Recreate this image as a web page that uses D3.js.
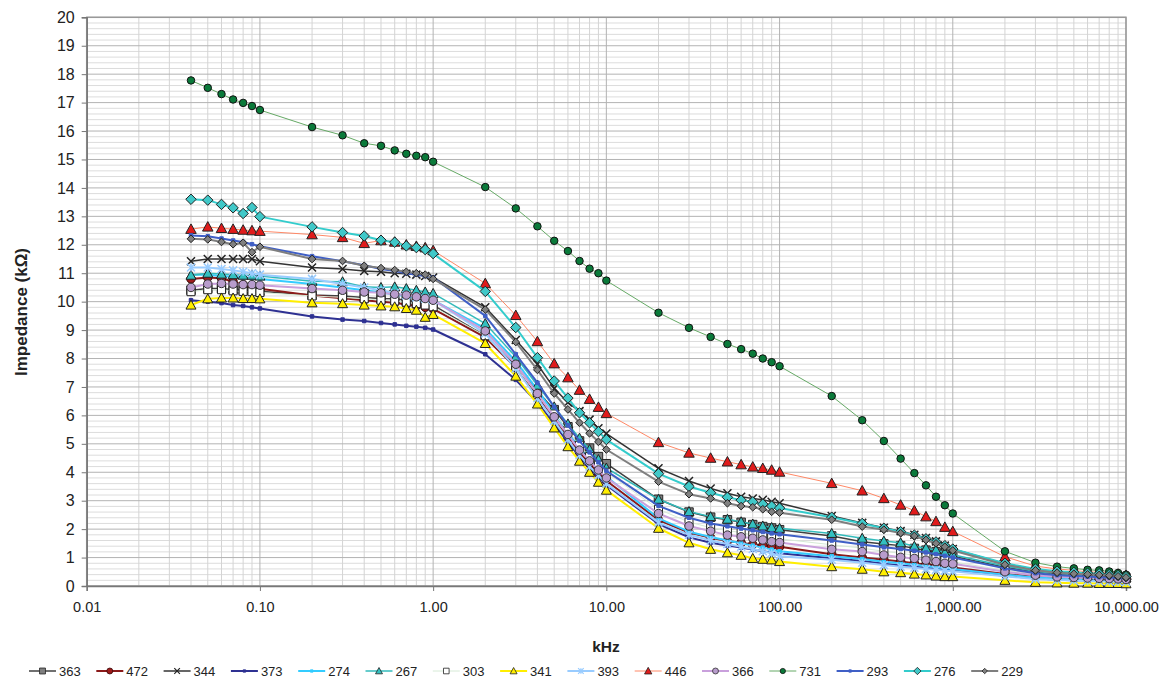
<!DOCTYPE html>
<html><head><meta charset="utf-8">
<script src="https://cdn.jsdelivr.net/npm/d3@7"></script>
<style>body{margin:0;background:#fff;} text{font-family:"Liberation Sans",Arial,sans-serif;fill:#222;}</style>
</head><body><svg id="c" width="1170" height="680"></svg>
<script>
// ---------- DATA ----------
const freqs = [0.04,0.05,0.06,0.07,0.08,0.09,0.1, 0.2,0.3,0.4,0.5,0.6,0.7,0.8,0.9,1, 2,3,4,5,6,7,8,9,10, 20,30,40,50,60,70,80,90,100, 200,300,400,500,600,700,800,900,1000, 2000,3000,4000,5000,6000,7000,8000,9000,10000];
const seriesNames = ["363","472","344","373","274","267","303","341","393","446","366","731","293","276","229"];
const s363 = [10.40,10.46,10.46,10.42,10.40,10.40,10.37, 10.23,10.20,10.15,10.11,10.10,10.05,10.00,9.95,9.88, 8.80,7.75,6.85,6.20,5.60,5.10,4.85,4.55,4.30, 3.05,2.60,2.42,2.33,2.24,2.16,2.09,2.04,1.98, 1.76,1.56,1.48,1.42,1.32,1.26,1.20,1.12,1.05, 0.66,0.50,0.42,0.38,0.36,0.34,0.32,0.30,0.28];
const s472 = [10.80,10.85,10.82,10.70,10.60,10.50,10.45, 10.22,10.12,10.05,10.00,9.96,9.90,9.85,9.80,9.75, 8.74,7.68,6.65,5.85,5.20,4.70,4.30,3.95,3.70, 2.32,1.88,1.70,1.58,1.52,1.46,1.42,1.40,1.38, 1.12,1.00,0.92,0.86,0.80,0.76,0.72,0.68,0.65, 0.42,0.32,0.27,0.25,0.24,0.23,0.22,0.21,0.20];
const s344 = [11.42,11.50,11.50,11.50,11.50,11.50,11.42, 11.20,11.15,11.08,11.05,11.00,10.98,10.95,10.90,10.85, 9.80,8.65,7.80,6.95,6.45,6.15,5.85,5.55,5.36, 4.14,3.69,3.43,3.26,3.14,3.08,3.03,2.96,2.91, 2.46,2.22,2.05,1.93,1.80,1.69,1.57,1.42,1.30, 0.78,0.58,0.50,0.46,0.43,0.41,0.39,0.36,0.32];
const s373 = [10.05,10.00,9.95,9.88,9.85,9.80,9.76, 9.48,9.37,9.32,9.25,9.20,9.15,9.12,9.08,9.02, 8.15,7.25,6.45,5.70,5.05,4.55,4.15,3.85,3.55, 2.18,1.71,1.52,1.42,1.35,1.28,1.22,1.18,1.15, 0.98,0.88,0.78,0.72,0.68,0.64,0.60,0.57,0.55, 0.36,0.27,0.22,0.20,0.19,0.18,0.17,0.16,0.15];
const s274 = [10.95,10.95,10.90,10.88,10.85,10.82,10.80, 10.62,10.50,10.40,10.32,10.25,10.20,10.15,10.10,10.05, 9.05,7.90,6.90,6.05,5.40,4.85,4.45,4.10,3.85, 2.38,1.91,1.72,1.60,1.50,1.42,1.35,1.28,1.22, 1.05,0.95,0.85,0.80,0.75,0.70,0.66,0.62,0.60, 0.40,0.30,0.26,0.24,0.23,0.22,0.21,0.20,0.19];
const s267 = [10.93,11.00,10.97,10.95,10.93,10.93,10.90, 10.72,10.70,10.52,10.50,10.52,10.46,10.40,10.34,10.29, 9.23,8.06,7.06,6.30,5.70,5.20,4.80,4.45,4.15, 3.05,2.62,2.44,2.35,2.26,2.18,2.11,2.06,2.03, 1.85,1.68,1.58,1.52,1.40,1.33,1.27,1.17,1.10, 0.70,0.52,0.44,0.40,0.38,0.36,0.34,0.32,0.29];
const s303 = [10.35,10.42,10.42,10.38,10.36,10.35,10.32, 10.20,10.15,10.10,10.05,10.02,9.98,9.93,9.88,9.82, 8.80,7.70,6.75,6.05,5.45,4.95,4.55,4.25,4.00, 2.70,2.25,2.05,1.95,1.88,1.80,1.75,1.70,1.66, 1.45,1.33,1.22,1.15,1.08,1.02,0.96,0.90,0.85, 0.55,0.42,0.36,0.33,0.31,0.30,0.28,0.27,0.25];
const s341 = [9.88,10.10,10.13,10.13,10.11,10.11,10.10, 9.96,9.93,9.88,9.85,9.82,9.76,9.70,9.45,9.55, 8.53,7.38,6.40,5.56,4.90,4.39,4.00,3.65,3.37, 2.03,1.52,1.29,1.17,1.08,0.97,0.94,0.92,0.86, 0.68,0.59,0.50,0.47,0.42,0.39,0.35,0.33,0.33, 0.20,0.13,0.11,0.10,0.10,0.09,0.09,0.09,0.08];
const s393 = [11.20,11.20,11.15,11.10,11.05,11.00,10.95, 10.80,10.62,10.50,10.40,10.30,10.22,10.15,10.10,10.05, 8.88,7.65,6.60,5.80,5.15,4.60,4.20,3.90,3.60, 2.23,1.80,1.60,1.48,1.38,1.30,1.22,1.15,1.05, 0.92,0.82,0.74,0.68,0.64,0.60,0.57,0.54,0.52, 0.34,0.25,0.21,0.19,0.18,0.17,0.16,0.15,0.14];
const s446 = [12.55,12.63,12.58,12.55,12.52,12.50,12.48, 12.36,12.26,12.05,12.15,12.10,12.00,11.95,11.90,11.80, 10.64,9.52,8.60,7.82,7.33,6.89,6.57,6.29,6.07, 5.05,4.68,4.50,4.37,4.27,4.19,4.14,4.08,4.01, 3.61,3.35,3.08,2.85,2.65,2.44,2.27,2.07,1.92, 1.03,0.70,0.60,0.55,0.50,0.48,0.45,0.42,0.38];
const s366 = [10.50,10.62,10.64,10.62,10.60,10.60,10.58, 10.46,10.40,10.34,10.31,10.26,10.23,10.17,10.11,10.05, 8.97,7.80,6.77,5.95,5.33,4.78,4.40,4.08,3.80, 2.55,2.11,1.93,1.79,1.73,1.68,1.62,1.56,1.53, 1.29,1.21,1.09,1.01,0.97,0.91,0.86,0.80,0.78, 0.50,0.38,0.32,0.30,0.28,0.27,0.26,0.25,0.23];
const s731 = [17.78,17.52,17.30,17.11,16.99,16.88,16.74, 16.14,15.85,15.57,15.48,15.32,15.20,15.13,15.08,14.92, 14.03,13.28,12.65,12.14,11.78,11.43,11.16,11.00,10.74, 9.61,9.08,8.76,8.51,8.33,8.17,8.00,7.87,7.73, 6.68,5.83,5.10,4.48,3.97,3.54,3.14,2.84,2.55, 1.22,0.82,0.68,0.62,0.57,0.55,0.51,0.46,0.40];
const s293 = [12.33,12.30,12.22,12.15,12.10,12.02,11.95, 11.60,11.42,11.28,11.15,11.08,11.00,10.95,10.90,10.85, 9.50,8.15,7.15,6.30,5.65,5.10,4.70,4.35,4.05, 2.82,2.40,2.20,2.10,2.02,1.96,1.90,1.85,1.82, 1.60,1.46,1.36,1.30,1.24,1.18,1.12,1.06,1.00, 0.62,0.45,0.38,0.35,0.33,0.31,0.30,0.28,0.26];
const s276 = [13.60,13.57,13.42,13.30,13.10,13.31,12.99, 12.63,12.43,12.31,12.16,12.09,11.96,11.90,11.83,11.69, 10.36,9.09,8.03,7.21,6.61,6.09,5.74,5.43,5.15, 3.95,3.50,3.28,3.12,3.02,2.96,2.88,2.81,2.74, 2.42,2.20,2.03,1.91,1.79,1.66,1.55,1.42,1.30, 0.80,0.60,0.52,0.48,0.45,0.43,0.40,0.37,0.33];
const s229 = [12.21,12.19,12.10,12.02,12.07,11.74,11.93, 11.50,11.43,11.26,11.18,11.11,11.05,11.00,10.95,10.80, 9.72,8.58,7.60,6.77,6.21,5.74,5.37,5.07,4.80, 3.67,3.23,3.08,2.91,2.81,2.77,2.70,2.61,2.58, 2.33,2.09,1.98,1.86,1.76,1.62,1.50,1.38,1.25, 0.75,0.55,0.47,0.43,0.41,0.39,0.37,0.34,0.30];
const seriesValues = [s363,s472,s344,s373,s274,s267,s303,s341,s393,s446,s366,s731,s293,s276,s229];
const xTicks = [0.01,0.1,1,10,100,1000,10000];
const xTickLabels = ["0.01","0.10","1.00","10.00","100.00","1,000.00","10,000.00"];
const yTicks = [0,1,2,3,4,5,6,7,8,9,10,11,12,13,14,15,16,17,18,19,20];
const xTitle = "kHz";
const yTitle = "Impedance (kΩ)";

// ---------- STYLES ----------
const styles = {
  "363":{line:"#404040",lw:1.5,m:"square",s:8.5,fill:"#7f7f7f",stroke:"#262626"},
  "472":{line:"#8b1a1a",lw:2,m:"circle",s:8.5,fill:"#9e1b1b",stroke:"#3a0a0a"},
  "344":{line:"#333333",lw:1.5,m:"x",s:8,fill:"none",stroke:"#222"},
  "373":{line:"#2e3192",lw:2,m:"square",s:3.5,fill:"#2e3192",stroke:"#2e3192"},
  "274":{line:"#33ccff",lw:2,m:"square",s:3.5,fill:"#33ccff",stroke:"#33ccff"},
  "267":{line:"#33bbbb",lw:1.5,m:"triangle",s:9.5,fill:"#33c0c0",stroke:"#222"},
  "303":{line:"#d6ead6",lw:1,m:"square",s:8,fill:"#ffffff",stroke:"#222"},
  "341":{line:"#ffee00",lw:2,m:"triangle",s:9.5,fill:"#ffee00",stroke:"#222"},
  "393":{line:"#99ccff",lw:2,m:"star",s:8,fill:"none",stroke:"#99ccff"},
  "446":{line:"#ff8866",lw:1,m:"triangle",s:10,fill:"#e01b1b",stroke:"#222"},
  "366":{line:"#c9a0dc",lw:2,m:"circle",s:8.5,fill:"#b89ccc",stroke:"#333"},
  "731":{line:"#66aa66",lw:1,m:"circle",s:7.5,fill:"#0a7a3a",stroke:"#111"},
  "293":{line:"#3f5fc6",lw:2,m:"square",s:3.5,fill:"#3f5fc6",stroke:"#3f5fc6"},
  "276":{line:"#33cccc",lw:2,m:"diamond",s:9.5,fill:"#40c8c8",stroke:"#222"},
  "229":{line:"#7f7f7f",lw:2,m:"diamond",s:7,fill:"#808080",stroke:"#222"}
};

function markerPath(type, s){
  const h = s/2;
  switch(type){
    case "square": return `M${-h},${-h}h${s}v${s}h${-s}Z`;
    case "circle": return `M${h},0A${h},${h} 0 1,1 ${-h},0A${h},${h} 0 1,1 ${h},0Z`;
    case "triangle": return `M0,${-h*1.05}L${h*1.05},${h*0.85}L${-h*1.05},${h*0.85}Z`;
    case "diamond": return `M0,${-h*1.1}L${h*1.1},0L0,${h*1.1}L${-h*1.1},0Z`;
    case "x": return `M${-h},${-h}L${h},${h}M${-h},${h}L${h},${-h}`;
    case "star": return `M${-h},${-h}L${h},${h}M${-h},${h}L${h},${-h}M0,${-h}L0,${h}`;
  }
}

// ---------- CHART ----------
const svg = d3.select("#c");
const L = 86.7, R = 1126, T = 17.3, B = 586;
const x = d3.scaleLog().domain([0.01,10000]).range([L,R]);
const y = d3.scaleLinear().domain([0,20]).range([B,T]);

const grid = svg.append("g");
const yMinor = d3.range(0,101).map(i=>i/5).filter(v=>Math.abs(v-Math.round(v))>1e-6);
grid.selectAll(".hm").data(yMinor).join("line")
  .attr("x1",L).attr("x2",R).attr("y1",d=>y(d)).attr("y2",d=>y(d))
  .attr("stroke","#dcdcdc").attr("stroke-width",1);
const xMinor = [];
[0.01,0.1,1,10,100,1000].forEach(dec=>{ for(let k=2;k<=9;k++) xMinor.push(dec*k); });
grid.selectAll(".vm").data(xMinor).join("line")
  .attr("y1",T).attr("y2",B).attr("x1",d=>x(d)).attr("x2",d=>x(d))
  .attr("stroke","#d4d4d4").attr("stroke-width",1);
grid.selectAll(".hM").data(yTicks).join("line")
  .attr("x1",L).attr("x2",R).attr("y1",d=>y(d)).attr("y2",d=>y(d))
  .attr("stroke","#b3b3b3").attr("stroke-width",1);
grid.selectAll(".vM").data(xTicks).join("line")
  .attr("y1",T).attr("y2",B).attr("x1",d=>x(d)).attr("x2",d=>x(d))
  .attr("stroke","#b3b3b3").attr("stroke-width",1);
svg.append("rect").attr("x",L).attr("y",T).attr("width",R-L).attr("height",B-T)
  .attr("fill","none").attr("stroke","#999").attr("stroke-width",1.5);

const yAxis = svg.append("g").attr("transform",`translate(${L},0)`)
  .call(d3.axisLeft(y).tickValues(yTicks).tickSize(5).tickPadding(7).tickFormat(d3.format("d")));
const xAxis = svg.append("g").attr("transform",`translate(0,${B})`)
  .call(d3.axisBottom(x).tickValues(xTicks).tickSize(5).tickPadding(11).tickFormat((d,i)=>xTickLabels[i]));
[yAxis,xAxis].forEach(g=>{
  g.select(".domain").attr("stroke","#777").attr("stroke-width",1.5);
  g.selectAll(".tick line").attr("stroke","#777");
  g.selectAll("text").attr("fill","#222").attr("font-family","Liberation Sans, Arial, sans-serif");
});
yAxis.selectAll("text").attr("font-size",16);
xAxis.selectAll("text").attr("font-size",14.5);

svg.append("text").attr("x",606).attr("y",652).attr("text-anchor","middle")
  .attr("font-size",15.5).attr("font-weight","bold").text(xTitle);
svg.append("text").attr("transform",`translate(27,312) rotate(-90)`).attr("text-anchor","middle")
  .attr("font-size",17).attr("font-weight","bold").text(yTitle);

const line = d3.line().x(d=>x(d.f)).y(d=>y(d.v));
const plot = svg.append("g");
seriesNames.forEach((name,si)=>{
  const st = styles[name];
  const pts = freqs.map((f,i)=>({f, v: seriesValues[si][i]}));
  const g = plot.append("g");
  g.append("path").datum(pts).attr("d",line).attr("fill","none")
    .attr("stroke",st.line).attr("stroke-width",st.lw).attr("stroke-linejoin","round");
  g.selectAll("path.mk").data(pts).join("path").attr("class","mk")
    .attr("transform",d=>`translate(${x(d.f)},${y(d.v)})`)
    .attr("d",markerPath(st.m, st.s))
    .attr("fill",st.fill).attr("stroke",st.stroke)
    .attr("stroke-width",(st.m==="x"||st.m==="star")?1.5:1);
});

const leg = svg.append("g");
seriesNames.forEach((name,i)=>{
  const st = styles[name];
  const x0 = 29 + i*67.3, yc = 671;
  const g = leg.append("g");
  g.append("line").attr("x1",x0).attr("x2",x0+27).attr("y1",yc).attr("y2",yc)
    .attr("stroke",st.line).attr("stroke-width",st.lw);
  g.append("path").attr("transform",`translate(${x0+13.5},${yc})`)
    .attr("d",markerPath(st.m, st.s*0.7)).attr("fill",st.fill).attr("stroke",st.stroke)
    .attr("stroke-width",(st.m==="x"||st.m==="star")?1.2:0.8);
  g.append("text").attr("x",x0+30).attr("y",yc+5).attr("font-size",13).text(name);
});
</script></body></html>
